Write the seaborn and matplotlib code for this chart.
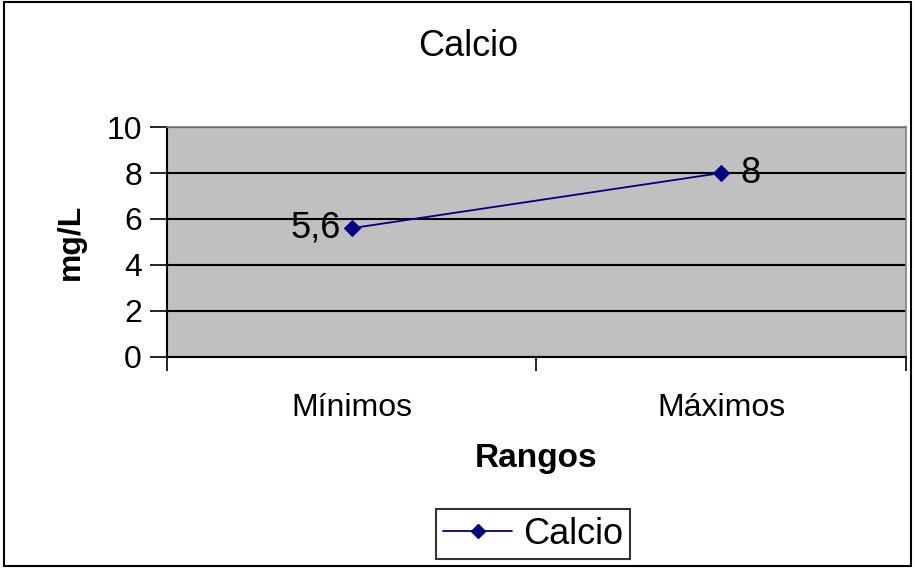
import matplotlib
matplotlib.use("Agg")
import matplotlib.pyplot as plt
import seaborn as sns
import pandas as pd
from matplotlib.patches import Rectangle
from matplotlib.lines import Line2D

categories = ["Mínimos", "Máximos"]
values = [5.6, 8]
value_labels = ["5,6", "8"]
series_name = "Calcio"
y_ticks = [0, 2, 4, 6, 8, 10]

sns.set_theme(style="white")
plt.rcParams["font.family"] = ["Liberation Sans", "DejaVu Sans"]
plt.rcParams["text.color"] = "black"
plt.rcParams["axes.labelcolor"] = "black"
plt.rcParams["xtick.color"] = "black"
plt.rcParams["ytick.color"] = "black"

df = pd.DataFrame({"Rango": categories, "mg/L": values})

fig = plt.figure(figsize=(9.15, 5.68), dpi=100)
ax = fig.add_axes([0.1825, 0.3715, 0.8075, 0.4049])
ax.set_facecolor("#C0C0C0")

sns.lineplot(data=df, x="Rango", y="mg/L", ax=ax, color="#000080",
             marker="D", markersize=8.5, markeredgecolor="#000080",
             linewidth=1.3, zorder=5)

ax.set_xlim(-0.5, 1.5)
ax.set_ylim(0, 10)
ax.set_yticks(y_ticks)
ax.yaxis.grid(True, color="black", linewidth=1.5)
ax.set_axisbelow(True)

# category labels centered, tick marks between categories
ax.set_xticks([0, 1])
ax.set_xticklabels(categories, fontsize=23)
ax.tick_params(axis="x", which="major", length=0, pad=26)
ax.set_xticks([-0.5, 0.5, 1.5], minor=True)
ax.tick_params(axis="x", which="minor", length=10, width=1.2, color="black", bottom=True)
ax.tick_params(axis="y", length=12, width=1.2, color="black", left=True, labelsize=23, pad=6)

for side in ["top", "right"]:
    ax.spines[side].set_color("#808080")
    ax.spines[side].set_linewidth(1.2)
ax.spines["left"].set_color("black")
ax.spines["left"].set_linewidth(1.5)
ax.spines["bottom"].set_color("black")
ax.spines["bottom"].set_linewidth(1.5)

ax.set_xlabel("Rangos", fontsize=24, fontweight="bold", labelpad=14)
ax.set_ylabel("mg/L", fontsize=23, fontweight="bold", labelpad=15)

# data labels
ax.annotate(value_labels[0], (0, values[0]), xytext=(-8, 0), textcoords="offset points",
            ha="right", va="center", fontsize=26, color="black")
ax.annotate(value_labels[1], (1, values[1]), xytext=(14, 0), textcoords="offset points",
            ha="left", va="center", fontsize=26, color="black")

fig.text(468 / 915, 1 - 46 / 568, "Calcio", ha="center", va="center", fontsize=26)

handle = Line2D([], [], color="#000080", marker="D", markersize=7, linewidth=1.3)
leg = fig.legend([handle], [series_name], loc="center", bbox_to_anchor=(533 / 915, 1 - 534 / 568),
                 fontsize=26, frameon=True, fancybox=False, edgecolor="black",
                 handlelength=1.9, borderpad=0.2, handletextpad=0.3, borderaxespad=0)
leg.get_frame().set_linewidth(1.5)

fig.patches.append(Rectangle((0.004, 0.004), 0.992, 0.992, transform=fig.transFigure,
                             fill=False, edgecolor="black", linewidth=1.5))

fig.savefig("out.png", dpi=100)
